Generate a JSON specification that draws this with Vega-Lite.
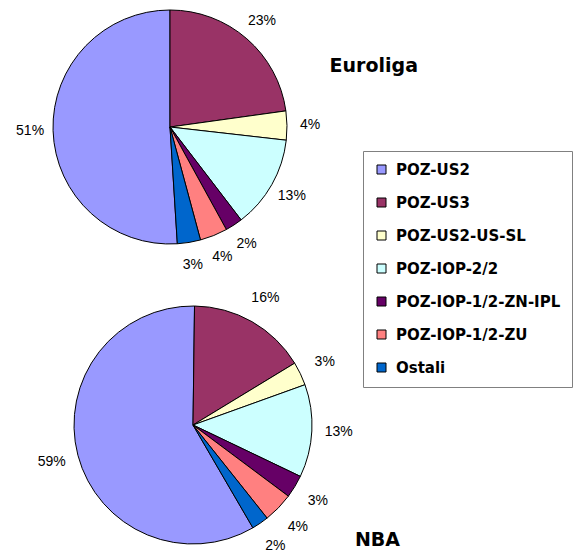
{
  "$schema": "https://vega.github.io/schema/vega-lite/v6.json",
  "padding": 0,
  "autosize": {"type": "pad"},
  "spacing": 43,
  "bounds": "flush",
  "background": "white",
  "config": {"view": {"stroke": null}, "font": "Liberation Sans"},
  "datasets": {
    "eu": [
      {"i": 1, "cat": "POZ-US2", "v": 0.510},
      {"i": 2, "cat": "POZ-US3", "v": 0.228},
      {"i": 3, "cat": "POZ-US2-US-SL", "v": 0.040},
      {"i": 4, "cat": "POZ-IOP-2/2", "v": 0.128},
      {"i": 5, "cat": "POZ-IOP-1/2-ZN-IPL", "v": 0.024},
      {"i": 6, "cat": "POZ-IOP-1/2-ZU", "v": 0.038},
      {"i": 7, "cat": "Ostali", "v": 0.032}
    ],
    "nba": [
      {"i": 1, "cat": "POZ-US2", "v": 0.586},
      {"i": 2, "cat": "POZ-US3", "v": 0.161},
      {"i": 3, "cat": "POZ-US2-US-SL", "v": 0.032},
      {"i": 4, "cat": "POZ-IOP-2/2", "v": 0.126},
      {"i": 5, "cat": "POZ-IOP-1/2-ZN-IPL", "v": 0.031},
      {"i": 6, "cat": "POZ-IOP-1/2-ZU", "v": 0.041},
      {"i": 7, "cat": "Ostali", "v": 0.023}
    ]
  },
  "resolve": {"scale": {"theta": "independent", "color": "shared"}},
  "vconcat": [
    {
      "width": 340,
      "height": 254,
      "title": {"text": "Euroliga", "orient": "top", "anchor": "end", "frame": "group", "font": "DejaVu Sans", "fontSize": 19, "fontWeight": "bold", "color": "black", "dx": 78, "dy": 80},
      "data": {"name": "eu"},
      "encoding": {
        "theta": {"field": "v", "type": "quantitative", "stack": true, "scale": {"range": [3.0788, 9.3620]}},
        "order": {"field": "i", "type": "quantitative"}
      },
      "layer": [
        {
          "mark": {"type": "arc", "radius": 117, "stroke": "black", "strokeWidth": 1},
          "encoding": {
            "color": {"field": "cat", "type": "nominal", "scale": {"domain": ["POZ-US2", "POZ-US3", "POZ-US2-US-SL", "POZ-IOP-2/2", "POZ-IOP-1/2-ZN-IPL", "POZ-IOP-1/2-ZU", "Ostali"], "range": ["#9999FF", "#993366", "#FFFFCC", "#CCFFFF", "#660066", "#FF8080", "#0066CC"]}}
          }
        },
        {
          "mark": {"type": "text", "radius": 140, "fontSize": 14, "color": "black", "font": "Liberation Sans"},
          "encoding": {"text": {"field": "v", "type": "quantitative", "format": ".0%"}}
        }
      ]
    },
    {
      "width": 386,
      "height": 256,
      "title": {"text": "NBA", "orient": "bottom", "anchor": "end", "frame": "group", "font": "DejaVu Sans", "fontSize": 19, "fontWeight": "bold", "color": "black", "dx": 14, "dy": -26},
      "data": {"name": "nba"},
      "encoding": {
        "theta": {"field": "v", "type": "quantitative", "stack": true, "scale": {"range": [2.614, 8.8972]}},
        "order": {"field": "i", "type": "quantitative"}
      },
      "layer": [
        {
          "mark": {"type": "arc", "radius": 119, "stroke": "black", "strokeWidth": 1},
          "encoding": {
            "color": {
              "field": "cat", "type": "nominal",
              "scale": {"domain": ["POZ-US2", "POZ-US3", "POZ-US2-US-SL", "POZ-IOP-2/2", "POZ-IOP-1/2-ZN-IPL", "POZ-IOP-1/2-ZU", "Ostali"], "range": ["#9999FF", "#993366", "#FFFFCC", "#CCFFFF", "#660066", "#FF8080", "#0066CC"]},
              "legend": {
                "orient": "none", "legendX": 363, "legendY": 151, "title": null,
                "strokeColor": "#808080", "padding": 11, "rowPadding": 17,
                "symbolType": "square", "symbolSize": 81, "symbolStrokeColor": "black", "symbolStrokeWidth": 1,
                "labelFont": "DejaVu Sans", "labelFontSize": 15, "labelFontWeight": "bold", "labelColor": "black", "labelLimit": 400, "labelOffset": 7
              }
            }
          }
        },
        {
          "mark": {"type": "text", "radius": 146, "fontSize": 14, "color": "black", "font": "Liberation Sans"},
          "encoding": {"text": {"field": "v", "type": "quantitative", "format": ".0%"}}
        }
      ]
    }
  ]
}
